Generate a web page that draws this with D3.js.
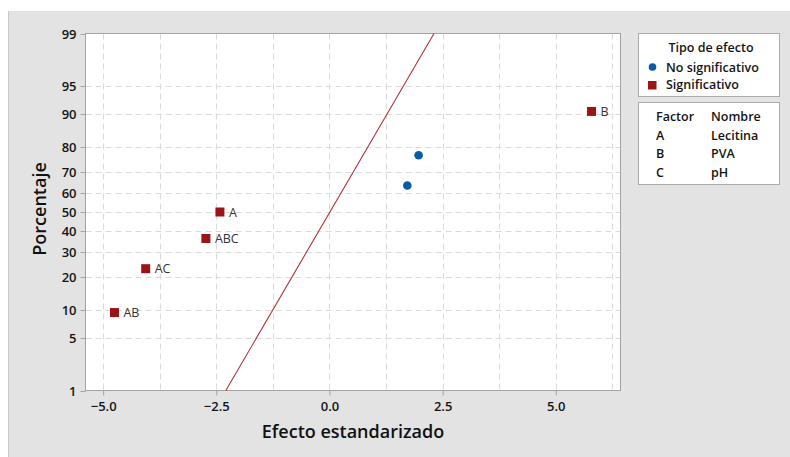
<!DOCTYPE html>
<html>
<head>
<meta charset="utf-8">
<script src="https://cdn.jsdelivr.net/npm/d3@7/dist/d3.min.js"></script>
<style>
  html, body { margin: 0; padding: 0; background: #ffffff; }
  svg { display: block; font-family: "Open Sans", "Noto Sans", sans-serif; }
</style>
</head>
<body>
<svg id="chart" width="790" height="457"></svg>
<script>
// Standardized effects (normal probability plot)
const effectNames = ["AB", "AC", "ABC", "A", "BC", "C", "B"];
const effectValues = [-4.75, -4.06, -2.73, -2.42, 1.72, 1.97, 5.79];
const effectPercents = [9.5, 23.0, 36.5, 50.0, 63.5, 77.0, 90.5];
const effectSignificant = [true, true, true, true, false, false, true];
const showLabel = [true, true, true, true, false, false, true];

// Reference line (effect vs. percent)
const lineEffects = [-2.29, 2.31];
const linePercents = [1, 99];

// Axis ticks
const xTicks = [-5, -2.5, 0, 2.5, 5];
const xGrid = [-5, -3.75, -2.5, -1.25, 0, 1.25, 2.5, 3.75, 5, 6.25];
const yTicks = [1, 5, 10, 20, 30, 40, 50, 60, 70, 80, 90, 95, 99];

// Legend content
const legendTypes = ["No significativo", "Significativo"];
const factorCodes = ["A", "B", "C"];
const factorNames = ["Lecitina", "PVA", "pH"];

const colorSig = "#9b1518";
const colorNon = "#0b5aa8";
const textDark = "#151515";

// Inverse standard normal CDF (Acklam's rational approximation)
function probit(p) {
  const a = [-39.69683028665376, 220.9460984245205, -275.9285104469687, 138.3577518672690, -30.66479806614716, 2.506628277459239];
  const b = [-54.47609879822406, 161.5858368580409, -155.6989798598866, 66.80131188771972, -13.28068155288572];
  const c = [-0.007784894002430293, -0.3223964580411365, -2.400758277161838, -2.549732539343734, 4.374664141464968, 2.938163982698783];
  const d = [0.007784695709041462, 0.3224671290700398, 2.445134137142996, 3.754408661907416];
  const pl = 0.02425, ph = 1 - pl;
  let q, r;
  if (p < pl) {
    q = Math.sqrt(-2 * Math.log(p));
    return (((((c[0]*q+c[1])*q+c[2])*q+c[3])*q+c[4])*q+c[5]) / ((((d[0]*q+d[1])*q+d[2])*q+d[3])*q+1);
  } else if (p <= ph) {
    q = p - 0.5; r = q * q;
    return (((((a[0]*r+a[1])*r+a[2])*r+a[3])*r+a[4])*r+a[5])*q / (((((b[0]*r+b[1])*r+b[2])*r+b[3])*r+b[4])*r+1);
  } else {
    q = Math.sqrt(-2 * Math.log(1 - p));
    return -(((((c[0]*q+c[1])*q+c[2])*q+c[3])*q+c[4])*q+c[5]) / ((((d[0]*q+d[1])*q+d[2])*q+d[3])*q+1);
  }
}

const svg = d3.select("#chart");
const W = 790, H = 457;
const plot = { left: 85.5, top: 33.5, right: 620.5, bottom: 390.5 };

// Panel background
svg.append("rect").attr("x", 8).attr("y", 11).attr("width", W - 8).attr("height", H - 11)
  .attr("fill", "#e3e3e3");
svg.append("line").attr("x1", 8.5).attr("x2", 8.5).attr("y1", 11).attr("y2", H)
  .attr("stroke", "#c9c9c9");

const x = d3.scaleLinear().domain([-5.39, 6.43]).range([plot.left, plot.right]);
const zScale = d3.scaleLinear().domain([probit(0.01), probit(0.99)]).range([plot.bottom, plot.top]);
const y = p => zScale(probit(p / 100));

// Plot area
svg.append("rect").attr("x", plot.left).attr("y", plot.top)
  .attr("width", plot.right - plot.left).attr("height", plot.bottom - plot.top)
  .attr("fill", "#ffffff");

// Grid
const grid = svg.append("g").attr("stroke", "#dadada").attr("stroke-width", 1).attr("stroke-dasharray", "6,4");
grid.selectAll(".vg").data(xGrid).join("line")
  .attr("x1", d => Math.round(x(d)) + 0.5).attr("x2", d => Math.round(x(d)) + 0.5)
  .attr("y1", plot.top).attr("y2", plot.bottom);
grid.selectAll(".hg").data(yTicks.filter(t => t > 1 && t < 99)).join("line")
  .attr("y1", d => Math.round(y(d)) + 0.5).attr("y2", d => Math.round(y(d)) + 0.5)
  .attr("x1", plot.left).attr("x2", plot.right);

// Plot border
svg.append("rect").attr("x", plot.left).attr("y", plot.top)
  .attr("width", plot.right - plot.left).attr("height", plot.bottom - plot.top)
  .attr("fill", "none").attr("stroke", "#a3a3a3").attr("stroke-width", 1);

// X axis
const xAxis = d3.axisBottom(x).tickValues(xTicks).tickFormat(d3.format(".1f")).tickSize(5).tickSizeOuter(0);
const gx = svg.append("g").attr("transform", `translate(0,${plot.bottom})`).call(xAxis);
gx.select(".domain").remove();
gx.selectAll(".tick line").attr("stroke", "#a3a3a3");
gx.selectAll(".tick text").attr("dy", 0).attr("y", 20)
  .attr("font-size", 13).attr("font-weight", 600).attr("fill", textDark)
  .attr("font-family", "'Open Sans', sans-serif");

// Y axis (normal probability scale)
const gy = svg.append("g").attr("transform", `translate(${plot.left},0)`);
const yt = gy.selectAll(".tick").data(yTicks).join("g").attr("class", "tick")
  .attr("transform", d => `translate(0,${Math.round(y(d)) + 0.5})`);
yt.append("line").attr("x1", -5).attr("x2", 0).attr("stroke", "#a3a3a3");
yt.append("text").attr("x", -9).attr("dy", "0.36em").attr("text-anchor", "end")
  .attr("font-size", 13).attr("font-weight", 600).attr("fill", textDark)
  .text(d => d);

// Axis titles
svg.append("text").attr("x", (plot.left + plot.right) / 2).attr("y", 438)
  .attr("text-anchor", "middle").attr("font-size", 18).attr("font-weight", 600).attr("fill", "#111")
  .text("Efecto estandarizado");
svg.append("text").attr("transform", `translate(46,${(plot.top + plot.bottom) / 2 - 3}) rotate(-90)`)
  .attr("text-anchor", "middle").attr("font-size", 18).attr("font-weight", 600).attr("fill", "#111")
  .text("Porcentaje");

// Reference line
const linePts = lineEffects.map((e, i) => [x(e), y(linePercents[i])]);
svg.append("path").attr("d", d3.line()(linePts))
  .attr("fill", "none").attr("stroke", "#b0353a").attr("stroke-width", 1.1);

// Effects
const effects = effectNames.map((n, i) => ({
  name: n, v: effectValues[i], p: effectPercents[i], sig: effectSignificant[i], lab: showLabel[i]
}));
const pts = svg.append("g");
pts.selectAll("rect").data(effects.filter(d => d.sig)).join("rect")
  .attr("x", d => x(d.v) - 4.5).attr("y", d => y(d.p) - 4.5)
  .attr("width", 9).attr("height", 9).attr("fill", colorSig);
pts.selectAll("circle").data(effects.filter(d => !d.sig)).join("circle")
  .attr("cx", d => x(d.v)).attr("cy", d => y(d.p)).attr("r", 4.3).attr("fill", colorNon);
pts.selectAll("text").data(effects.filter(d => d.lab)).join("text")
  .attr("x", d => x(d.v) + 9).attr("y", d => y(d.p)).attr("dy", "0.36em")
  .attr("font-size", 12.5).attr("fill", "#333").text(d => d.name);

// Legend: effect type
const lg1 = svg.append("g");
lg1.append("rect").attr("x", 638.5).attr("y", 33.5).attr("width", 141).attr("height", 63)
  .attr("fill", "#fff").attr("stroke", "#ababab");
lg1.append("text").attr("x", 711).attr("y", 51.5).attr("text-anchor", "middle")
  .attr("font-size", 12.5).attr("font-weight", 600).attr("fill", textDark).text("Tipo de efecto");
const legendRows = lg1.selectAll(".row").data(legendTypes).join("g")
  .attr("transform", (d, i) => `translate(0,${67 + i * 17})`);
legendRows.each(function(d, i) {
  const g = d3.select(this);
  if (i === 0) g.append("circle").attr("cx", 652.5).attr("cy", 0).attr("r", 3.8).attr("fill", colorNon);
  else g.append("rect").attr("x", 648).attr("y", -3).attr("width", 8.5).attr("height", 8.5).attr("fill", colorSig);
  g.append("text").attr("x", 666).attr("y", 0).attr("dy", "0.36em")
    .attr("font-size", 12.5).attr("font-weight", 600).attr("fill", textDark).text(d);
});

// Legend: factor table
const lg2 = svg.append("g");
lg2.append("rect").attr("x", 638.5).attr("y", 102.5).attr("width", 141).attr("height", 82)
  .attr("fill", "#fff").attr("stroke", "#ababab");
const hdrY = 116;
lg2.append("text").attr("x", 656).attr("y", hdrY).attr("dy", "0.36em")
  .attr("font-size", 12.5).attr("font-weight", 600).attr("fill", textDark).text("Factor");
lg2.append("text").attr("x", 711).attr("y", hdrY).attr("dy", "0.36em")
  .attr("font-size", 12.5).attr("font-weight", 600).attr("fill", textDark).text("Nombre");
factorCodes.forEach((c, i) => {
  const yy = 135 + i * 18.8;
  lg2.append("text").attr("x", 656).attr("y", yy).attr("dy", "0.36em")
    .attr("font-size", 12.5).attr("font-weight", 600).attr("fill", textDark).text(c);
  lg2.append("text").attr("x", 711).attr("y", yy).attr("dy", "0.36em")
    .attr("font-size", 12.5).attr("font-weight", 600).attr("fill", textDark).text(factorNames[i]);
});
</script>
</body>
</html>
